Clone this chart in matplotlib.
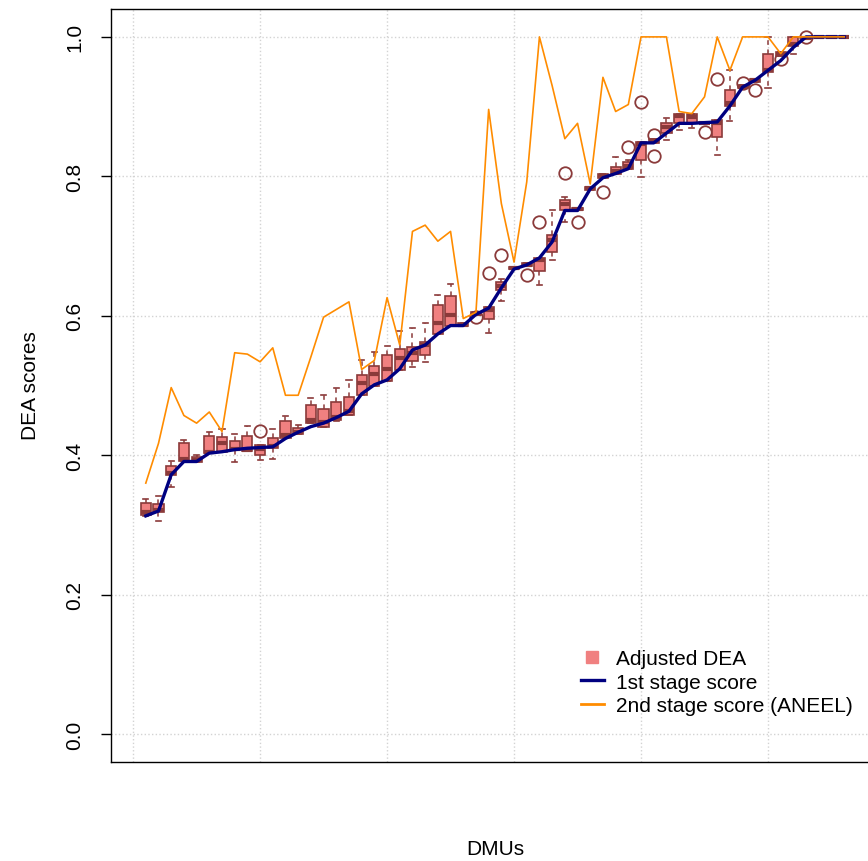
import numpy as np
import matplotlib
matplotlib.use("Agg")
import matplotlib.pyplot as plt
from matplotlib.lines import Line2D

plt.rcParams["font.family"] = ["Liberation Sans", "DejaVu Sans"]

# ── values (DEA scores per DMU, sorted by 1st stage) ──
first_stage = [0.313, 0.320, 0.372, 0.391, 0.391, 0.403, 0.405, 0.408, 0.410, 0.411,
               0.412, 0.424, 0.433, 0.441, 0.446, 0.454, 0.463, 0.488, 0.501, 0.508,
               0.524, 0.551, 0.558, 0.574, 0.586, 0.586, 0.602, 0.611, 0.640, 0.667,
               0.673, 0.683, 0.706, 0.751, 0.751, 0.782, 0.798, 0.804, 0.811, 0.848,
               0.848, 0.862, 0.876, 0.876, 0.877, 0.878, 0.901, 0.928, 0.938, 0.952,
               0.966, 0.985, 1.0, 1.0, 1.0, 1.0]

second_stage = [0.360, 0.417, 0.497, 0.457, 0.446, 0.462, 0.434, 0.547, 0.545, 0.534,
                0.554, 0.486, 0.486, 0.541, 0.598, 0.609, 0.620, 0.523, 0.536, 0.626,
                0.558, 0.721, 0.730, 0.707, 0.721, 0.596, 0.605, 0.896, 0.761, 0.677,
                0.792, 1.0, 0.930, 0.854, 0.876, 0.789, 0.942, 0.893, 0.903, 1.0,
                1.0, 1.0, 0.893, 0.890, 0.914, 1.0, 0.952, 1.0, 1.0, 1.0,
                0.976, 1.0, 1.0, 1.0, 1.0, 1.0]

# adjusted DEA box stats
q1 = [0.314, 0.319, 0.371, 0.391, 0.390, 0.403, 0.404, 0.407, 0.406, 0.401,
      0.411, 0.424, 0.431, 0.446, 0.441, 0.450, 0.457, 0.487, 0.500, 0.507,
      0.522, 0.535, 0.544, 0.574, 0.586, 0.585, 0.601, 0.595, 0.637, 0.667,
      0.671, 0.664, 0.692, 0.751, 0.751, 0.781, 0.798, 0.804, 0.810, 0.824,
      0.848, 0.862, 0.876, 0.876, 0.876, 0.857, 0.901, 0.926, 0.936, 0.950,
      0.972, 0.987, 0.997, 1.0, 1.0, 1.0]
med = [0.318, 0.321, 0.374, 0.394, 0.393, 0.405, 0.417, 0.409, 0.408, 0.409,
       0.413, 0.429, 0.434, 0.450, 0.447, 0.455, 0.464, 0.504, 0.516, 0.523,
       0.539, 0.546, 0.558, 0.589, 0.601, 0.587, 0.603, 0.609, 0.642, 0.668,
       0.673, 0.680, 0.708, 0.761, 0.753, 0.783, 0.800, 0.808, 0.815, 0.846,
       0.850, 0.871, 0.886, 0.885, 0.877, 0.876, 0.905, 0.928, 0.938, 0.953,
       0.975, 0.990, 0.999, 1.0, 1.0, 1.0]
q3 = [0.331, 0.330, 0.384, 0.417, 0.397, 0.428, 0.426, 0.420, 0.427, 0.414,
      0.425, 0.449, 0.439, 0.472, 0.466, 0.477, 0.484, 0.515, 0.528, 0.544,
      0.552, 0.555, 0.563, 0.615, 0.629, 0.590, 0.606, 0.613, 0.649, 0.670,
      0.676, 0.683, 0.716, 0.766, 0.755, 0.785, 0.803, 0.814, 0.821, 0.849,
      0.853, 0.877, 0.890, 0.889, 0.878, 0.881, 0.924, 0.931, 0.940, 0.975,
      0.978, 1.0, 1.0, 1.0, 1.0, 1.0]
whisk_lo = [0.313, 0.306, 0.355, 0.391, 0.390, 0.403, 0.404, 0.390, 0.406, 0.393,
            0.394, 0.424, 0.431, 0.446, 0.441, 0.449, 0.457, 0.487, 0.500, 0.507,
            0.522, 0.527, 0.533, 0.574, 0.586, 0.585, 0.601, 0.576, 0.621, 0.667,
            0.671, 0.644, 0.680, 0.735, 0.751, 0.781, 0.798, 0.804, 0.810, 0.799,
            0.848, 0.852, 0.866, 0.869, 0.876, 0.830, 0.880, 0.926, 0.936, 0.927,
            0.972, 0.976, 0.997, 1.0, 1.0, 1.0]
whisk_hi = [0.337, 0.341, 0.391, 0.422, 0.400, 0.434, 0.438, 0.430, 0.442, 0.414,
            0.437, 0.456, 0.443, 0.482, 0.487, 0.496, 0.508, 0.537, 0.548, 0.557,
            0.578, 0.582, 0.589, 0.630, 0.645, 0.590, 0.606, 0.613, 0.653, 0.670,
            0.676, 0.683, 0.751, 0.771, 0.755, 0.785, 0.803, 0.828, 0.824, 0.849,
            0.853, 0.883, 0.890, 0.889, 0.878, 0.881, 0.952, 0.931, 0.940, 1.0,
            0.978, 1.0, 1.0, 1.0, 1.0, 1.0]
out_dmu = [10, 27, 28, 29, 31, 32, 34, 35, 37, 39, 40, 41, 41, 45, 46, 48, 49, 51, 53]
out_val = [0.435, 0.598, 0.661, 0.687, 0.658, 0.735, 0.805, 0.735, 0.778, 0.842,
           0.907, 0.860, 0.829, 0.863, 0.939, 0.934, 0.924, 0.968, 1.0]

BOX_FILL = "#f08080"
BOX_EDGE = "#8b3a3a"

n = len(first_stage)
dmus = np.arange(1, n + 1)

stats = []
for i in range(n):
    fl = [v for d, v in zip(out_dmu, out_val) if d == i + 1]
    stats.append(dict(whislo=whisk_lo[i], q1=q1[i], med=med[i], q3=q3[i],
                      whishi=whisk_hi[i], fliers=fl))

fig = plt.figure(figsize=(8.68, 8.62), dpi=100)
# R-style plot region; right edge runs off the canvas like the reference
ax = fig.add_axes([111 / 868, 99 / 862, 768 / 868, 753 / 862])

ax.bxp(stats, positions=dmus, widths=0.8, patch_artist=True, manage_ticks=False,
       capwidths=0.4,
       boxprops=dict(facecolor=BOX_FILL, edgecolor=BOX_EDGE, linewidth=1.2),
       whiskerprops=dict(color=BOX_EDGE, linestyle=(0, (3, 3)), linewidth=1.1),
       capprops=dict(color=BOX_EDGE, linewidth=1.2),
       medianprops=dict(color=BOX_EDGE, linewidth=3, solid_capstyle="butt"),
       flierprops=dict(marker="o", markerfacecolor="none", markeredgecolor=BOX_EDGE,
                       markersize=9, markeredgewidth=1.3))

ax.plot(dmus, first_stage, color="navy", lw=2.4, zorder=4)
ax.plot(dmus, second_stage, color="darkorange", lw=1.2, zorder=5)

ax.set_xlim(0.5 - 0.04 * n, n + 0.5 + 0.04 * n)
ax.set_ylim(-0.04, 1.04)

ax.set_xticks(np.arange(0, 60, 10))
ax.set_yticks(np.arange(0, 1.01, 0.2), [f"{v:.1f}" for v in np.arange(0, 1.01, 0.2)],
              rotation=90, va="center")
ax.tick_params(axis="x", length=0, labelbottom=False)
ax.tick_params(axis="y", length=7, width=1, pad=12, labelsize=15)
ax.grid(True, linestyle=":", color="lightgray", linewidth=1)
ax.set_axisbelow(True)
for sp in ax.spines.values():
    sp.set_linewidth(1)

fig.text(30 / 868, 1 - 386 / 862, "DEA scores", rotation=90, ha="center",
         va="center", fontsize=15)
fig.text(495 / 868, 1 - 850 / 862, "DMUs", ha="center", va="center", fontsize=15)

handles = [
    Line2D([], [], marker="s", linestyle="none", markersize=8,
           markerfacecolor=BOX_FILL, markeredgecolor=BOX_FILL),
    Line2D([], [], color="navy", lw=2.4),
    Line2D([], [], color="darkorange", lw=2.0),
]
ax.legend(handles, ["Adjusted DEA", "1st stage score", "2nd stage score (ANEEL)"],
          loc="upper left", bbox_to_anchor=((581 - 111) / 768, (763 - 650) / 753),
          frameon=False, fontsize=15, borderpad=0, labelspacing=0.22,
          handlelength=1.1, handletextpad=0.6, borderaxespad=0)

fig.savefig("out.png", dpi=100)
